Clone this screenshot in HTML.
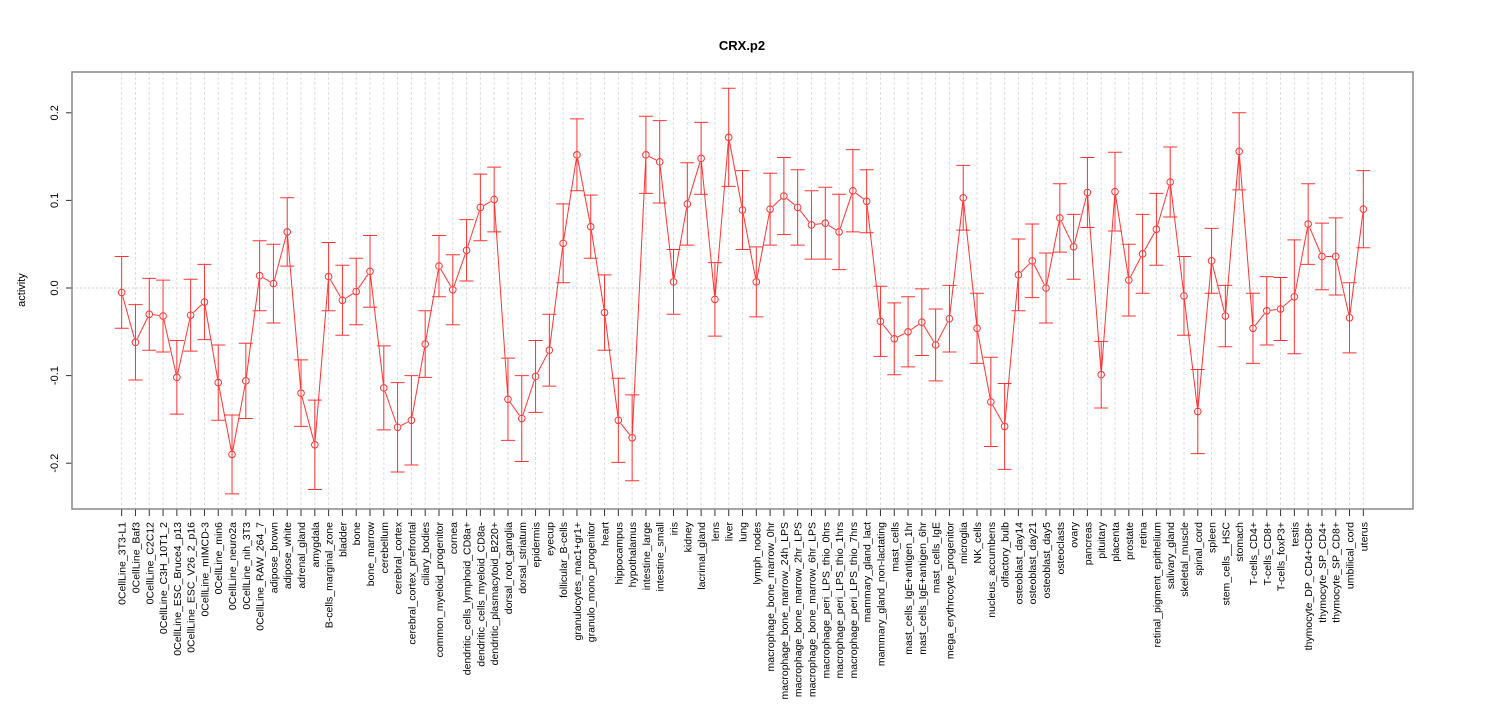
<!DOCTYPE html>
<html><head><meta charset="utf-8"><style>
html,body{margin:0;padding:0;background:#fff;}
svg{display:block;font-family:"Liberation Sans",sans-serif;}
</style></head><body>
<svg id="chart" width="1485" height="720" xmlns="http://www.w3.org/2000/svg">
<text x="742" y="50" text-anchor="middle" font-size="13" font-weight="bold">CRX.p2</text>
<text transform="translate(25,290) rotate(-90)" text-anchor="middle" font-size="11">activity</text>
<g id="grid"></g>
<g id="yaxis"></g>
<g id="xaxis"></g>
<g id="series"></g>
<rect x="72" y="72" width="1341" height="437" fill="none" stroke="#888" stroke-width="1.5"/>
</svg>
<script>
const categories = ["0CellLine_3T3-L1","0CellLine_Baf3","0CellLine_C2C12","0CellLine_C3H_10T1_2","0CellLine_ESC_Bruce4_p13","0CellLine_ESC_V26_2_p16","0CellLine_mIMCD-3","0CellLine_min6","0CellLine_neuro2a","0CellLine_nih_3T3","0CellLine_RAW_264_7","adipose_brown","adipose_white","adrenal_gland","amygdala","B-cells_marginal_zone","bladder","bone","bone_marrow","cerebellum","cerebral_cortex","cerebral_cortex_prefrontal","ciliary_bodies","common_myeloid_progenitor","cornea","dendritic_cells_lymphoid_CD8a+","dendritic_cells_myeloid_CD8a-","dendritic_plasmacytoid_B220+","dorsal_root_ganglia","dorsal_striatum","epidermis","eyecup","follicular_B-cells","granulocytes_mac1+gr1+","granulo_mono_progenitor","heart","hippocampus","hypothalamus","intestine_large","intestine_small","iris","kidney","lacrimal_gland","lens","liver","lung","lymph_nodes","macrophage_bone_marrow_0hr","macrophage_bone_marrow_24h_LPS","macrophage_bone_marrow_2hr_LPS","macrophage_bone_marrow_6hr_LPS","macrophage_peri_LPS_thio_0hrs","macrophage_peri_LPS_thio_1hrs","macrophage_peri_LPS_thio_7hrs","mammary_gland_lact","mammary_gland_non-lactating","mast_cells","mast_cells_IgE+antigen_1hr","mast_cells_IgE+antigen_6hr","mast_cells_IgE","mega_erythrocyte_progenitor","microglia","NK_cells","nucleus_accumbens","olfactory_bulb","osteoblast_day14","osteoblast_day21","osteoblast_day5","osteoclasts","ovary","pancreas","pituitary","placenta","prostate","retina","retinal_pigment_epithelium","salivary_gland","skeletal_muscle","spinal_cord","spleen","stem_cells__HSC","stomach","T-cells_CD4+","T-cells_CD8+","T-cells_foxP3+","testis","thymocyte_DP_CD4+CD8+","thymocyte_SP_CD4+","thymocyte_SP_CD8+","umbilical_cord","uterus"];
const values = [-0.005,-0.062,-0.03,-0.032,-0.102,-0.031,-0.016,-0.108,-0.19,-0.106,0.014,0.005,0.064,-0.12,-0.179,0.013,-0.014,-0.004,0.019,-0.114,-0.159,-0.151,-0.064,0.025,-0.002,0.043,0.092,0.101,-0.127,-0.149,-0.101,-0.071,0.051,0.152,0.07,-0.028,-0.151,-0.171,0.152,0.144,0.007,0.096,0.148,-0.013,0.172,0.089,0.007,0.09,0.105,0.092,0.072,0.074,0.064,0.111,0.099,-0.038,-0.058,-0.05,-0.039,-0.065,-0.035,0.103,-0.046,-0.13,-0.158,0.015,0.031,0.0,0.08,0.047,0.109,-0.099,0.11,0.009,0.039,0.067,0.121,-0.009,-0.141,0.031,-0.032,0.156,-0.046,-0.026,-0.024,-0.01,0.073,0.036,0.036,-0.034,0.09];
const errors = [0.041,0.043,0.041,0.041,0.042,0.041,0.043,0.043,0.045,0.043,0.040,0.045,0.039,0.038,0.051,0.039,0.040,0.038,0.041,0.048,0.051,0.051,0.038,0.035,0.040,0.035,0.038,0.037,0.047,0.049,0.041,0.041,0.045,0.041,0.036,0.043,0.048,0.049,0.044,0.047,0.037,0.047,0.041,0.042,0.056,0.045,0.040,0.041,0.044,0.043,0.039,0.041,0.043,0.047,0.036,0.040,0.041,0.040,0.038,0.041,0.038,0.037,0.040,0.051,0.049,0.041,0.042,0.040,0.039,0.037,0.040,0.038,0.045,0.041,0.045,0.041,0.040,0.045,0.048,0.037,0.035,0.044,0.040,0.039,0.036,0.065,0.046,0.038,0.044,0.040,0.044];
const yTicks = [-0.2,-0.1,0.0,0.1,0.2];
const yTickLabels = ["-0.2","-0.1","0.0","0.1","0.2"];

const NS = "http://www.w3.org/2000/svg";
const plotL = 72, plotR = 1413;
const n = categories.length;
const span = (n - 1) * 1.08;
function xScale(i){ return plotL + ((i + 1) - (1 - (n - 1) * 0.04)) / span * (plotR - plotL); }
function yScale(v){ return 288 - v * 876; }
function mk(tag, attrs, parent){ const e = document.createElementNS(NS, tag); for (const k in attrs) e.setAttribute(k, attrs[k]); parent.appendChild(e); return e; }

const grid = document.getElementById('grid');
const yaxis = document.getElementById('yaxis');
const xaxis = document.getElementById('xaxis');
const series = document.getElementById('series');

const zl = mk('line', {x1:plotL, x2:plotR, y1:yScale(0), y2:yScale(0), stroke:'#ccc', 'stroke-dasharray':'2,2'}, grid);



yTicks.forEach((t, k) => {
  const y = yScale(t);
  const tl = mk('line', {x1:66, x2:72, y1:y, y2:y, stroke:'#333'}, yaxis);
  
  
  const tx = mk('text', {transform:`translate(58,${y}) rotate(-90)`, 'text-anchor':'middle', 'font-size':'11'}, yaxis);
  tx.textContent = yTickLabels[k];
  
  
});

categories.forEach((c, i) => {
  const x = xScale(i);
  const g = mk('line', {x1:x, x2:x, y1:72, y2:509, stroke:'#ddd', 'stroke-dasharray':'3,2'}, grid);
  
  
  const t = mk('line', {x1:x, x2:x, y1:509, y2:516, stroke:'#333'}, xaxis);
  
  
  const lb = mk('text', {transform:`translate(${x+4},522) rotate(-90)`, 'text-anchor':'end', 'font-size':'10.5'}, xaxis);
  lb.textContent = c;
  
  
});

for (let i = 0; i < n - 1; i++) {
  const x1 = xScale(i), y1 = yScale(values[i]), x2 = xScale(i + 1), y2 = yScale(values[i + 1]);
  const dx = x2 - x1, dy = y2 - y1, d = Math.hypot(dx, dy);
  if (d < 9) continue;
  const ux = dx / d, uy = dy / d;
  const s = mk('line', {x1:x1 + ux * 4, y1:y1 + uy * 4, x2:x2 - ux * 4, y2:y2 - uy * 4, stroke:'#f33', 'stroke-width':1}, series);
  
  
}
values.forEach((v, i) => {
  const x = xScale(i), y = yScale(v), top = yScale(v + errors[i]), bot = yScale(v - errors[i]);
  const eb = mk('path', {d:`M${x},${top}V${bot}M${x-7},${top}H${x+7}M${x-7},${bot}H${x+7}`, stroke:'#f33', fill:'none', 'stroke-width':1}, series);
  
  
  const p = mk('circle', {cx:x, cy:y, r:3.3, fill:'none', stroke:'#f33', 'stroke-width':1}, series);
  
  
});
</script>
</body></html>
